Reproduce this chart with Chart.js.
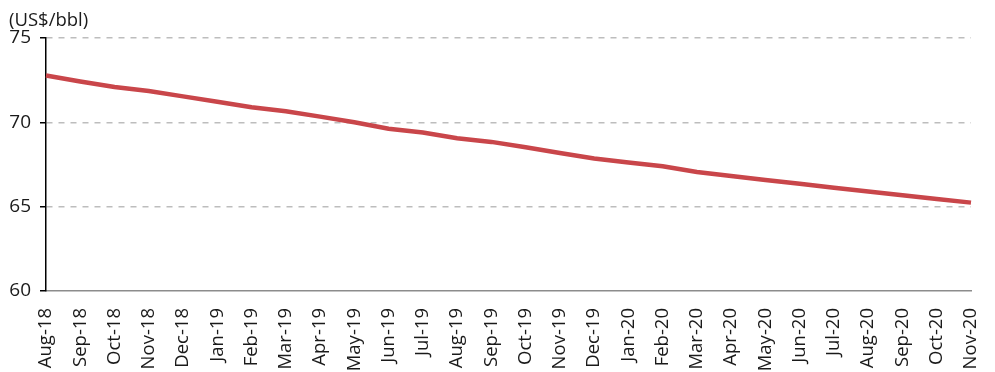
<!DOCTYPE html>
<html>
<head>
<meta charset="utf-8">
<script src="https://cdn.jsdelivr.net/npm/chart.js@4/dist/chart.umd.min.js"></script>
<style>
  html, body { margin: 0; padding: 0; background: #fff; }
  #wrap { width: 995px; height: 372px; position: relative; }
</style>
</head>
<body>
<div id="wrap"><canvas id="grafico" width="995" height="372"></canvas></div>
<script>
// Mesi della curva forward
const mesi = [
    "Aug-18", "Sep-18", "Oct-18", "Nov-18", "Dec-18", "Jan-19", "Feb-19",
    "Mar-19", "Apr-19", "May-19", "Jun-19", "Jul-19", "Aug-19", "Sep-19",
    "Oct-19", "Nov-19", "Dec-19", "Jan-20", "Feb-20", "Mar-20", "Apr-20",
    "May-20", "Jun-20", "Jul-20", "Aug-20", "Sep-20", "Oct-20", "Nov-20"
];

// Prezzo (US$/bbl)
const prezzi = [
    72.78, 72.42, 72.10, 71.86, 71.54, 71.22, 70.90,
    70.66, 70.34, 70.00, 69.62, 69.40, 69.06, 68.84,
    68.52, 68.18, 67.86, 67.62, 67.40, 67.06, 66.82,
    66.58, 66.36, 66.12, 65.90, 65.68, 65.46, 65.24
];

const yTicks = [60, 65, 70, 75];
const unita = "(US$/bbl)";

const FONT = "'Open Sans', 'Noto Sans', sans-serif";

// Etichetta unità in alto a sinistra
const unitaPlugin = {
    id: "unita",
    afterDraw(chart) {
        const ctx = chart.ctx;
        ctx.save();
        ctx.font = "18.5px " + FONT;
        ctx.fillStyle = "#1a1a1a";
        ctx.textBaseline = "alphabetic";
        ctx.textAlign = "left";
        ctx.fillText(unita, 9, 26);
        ctx.restore();
    }
};

const ctx = document.getElementById("grafico").getContext("2d");

new Chart(ctx, {
    type: "line",
    data: {
        labels: mesi,
        datasets: [{
            data: prezzi,
            borderColor: "#c9464a",
            borderWidth: 4.5,
            pointRadius: 0,
            fill: false,
            tension: 0
        }]
    },
    options: {
        responsive: false,
        animation: false,
        layout: { padding: { top: 38, right: 24, left: 0, bottom: 0 } },
        plugins: {
            legend: { display: false },
            tooltip: { enabled: false }
        },
        scales: {
            x: {
                grid: { display: false },
                border: { display: true, color: "#8c8c8c", width: 1.5 },
                ticks: {
                    color: "#1a1a1a",
                    font: { family: FONT, size: 18.5 },
                    maxRotation: 90,
                    minRotation: 90,
                    autoSkip: false,
                    padding: 9
                },
                afterFit(scale) {
                    scale.height = 81;
                    scale.paddingRight = 0;
                    scale.paddingLeft = 0;
                }
            },
            y: {
                min: 60,
                max: 75,
                afterBuildTicks(scale) {
                    scale.ticks = yTicks.map(v => ({ value: v }));
                },
                grid: {
                    color: c => (c.tick && c.tick.value === 60) ? "rgba(0,0,0,0)" : "#bdbdbd",
                    lineWidth: 1.5,
                    tickColor: "#000",
                    tickLength: 6,
                    tickWidth: 1.5
                },
                // in v4 il dash del bordo si applica alle linee di griglia
                border: { display: true, color: "#000", width: 1.5, dash: [6, 6] },
                ticks: {
                    color: "#1a1a1a",
                    font: { family: FONT, size: 19 },
                    padding: 9
                },
                afterFit(scale) { scale.width = 46; }
            }
        }
    },
    plugins: [unitaPlugin]
});
</script>
</body>
</html>
